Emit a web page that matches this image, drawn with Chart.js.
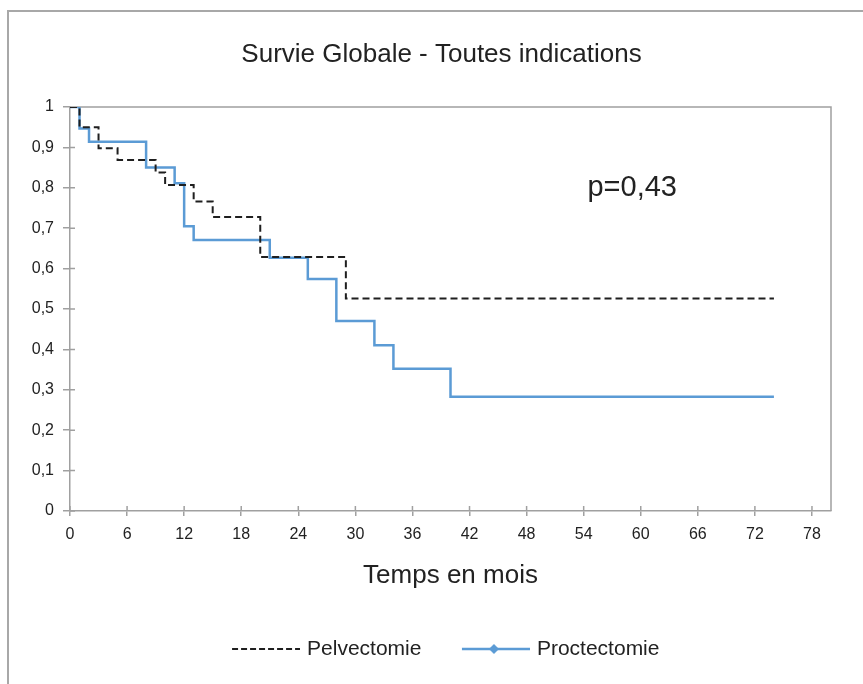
<!DOCTYPE html>
<html>
<head>
<meta charset="utf-8">
<script src="https://cdn.jsdelivr.net/npm/chart.js@4.4.0/dist/chart.umd.min.js"></script>
<style>
html,body{margin:0;padding:0;background:#fff;}
#wrap{width:863px;height:684px;position:relative;}
canvas{display:block;}
</style>
</head>
<body>
<div id="wrap"><canvas id="c" width="863" height="684"></canvas></div>
<script>
// ---- data ----
const chartTitle = 'Survie Globale - Toutes indications';
const xAxisTitle = 'Temps en mois';
const pValueText = 'p=0,43';
const seriesNames = ['Pelvectomie', 'Proctectomie'];
const pelvMonths   = [0, 1, 3, 5, 9, 10, 13, 15, 20, 29, 74];
const pelvSurvival = [1, 0.95, 0.898, 0.869, 0.838, 0.807, 0.766, 0.728, 0.629, 0.526, 0.526];
const proctMonths   = [0, 1, 2, 8, 11, 12, 13, 21, 25, 28, 32, 34, 40, 74];
const proctSurvival = [1, 0.947, 0.914, 0.85, 0.811, 0.705, 0.671, 0.627, 0.574, 0.47, 0.41, 0.352, 0.283, 0.283];
const xTickValues = [0, 6, 12, 18, 24, 30, 36, 42, 48, 54, 60, 66, 72, 78];
const yTickValues = [0, 0.1, 0.2, 0.3, 0.4, 0.5, 0.6, 0.7, 0.8, 0.9, 1];
const yTickLabels = ['0', '0,1', '0,2', '0,3', '0,4', '0,5', '0,6', '0,7', '0,8', '0,9', '1'];

// ---- styling ----
const FONT = '"Liberation Sans", Arial, Helvetica, sans-serif';
const TEXT = '#222222';
const AXIS = '#a0a0a0';
const BLUE = '#5b9bd5';
const BLACK = '#1f1f1f';
Chart.defaults.font.family = FONT;
Chart.defaults.color = TEXT;

function legendImage(kind) {
  const cv = document.createElement('canvas');
  cv.width = 100; cv.height = 14;
  const g = cv.getContext('2d');
  if (kind === 'dash') {
    g.strokeStyle = BLACK; g.lineWidth = 2; g.setLineDash([6, 3]);
    g.beginPath(); g.moveTo(32, 7); g.lineTo(100, 7); g.stroke();
  } else {
    g.strokeStyle = BLUE; g.lineWidth = 2.5;
    g.beginPath(); g.moveTo(32, 7); g.lineTo(100, 7); g.stroke();
    g.fillStyle = BLUE;
    g.beginPath(); g.moveTo(64, 2); g.lineTo(69, 7); g.lineTo(64, 12); g.lineTo(59, 7); g.closePath(); g.fill();
  }
  return cv;
}
const legendImgs = [legendImage('dash'), legendImage('diamond')];

const decor = {
  id: 'decor',
  afterLayout(chart) {
    // shift title centre slightly right, as in the reference
    if (chart.titleBlock) { chart.titleBlock.left = 20; }
  },
  beforeDraw(chart) {
    const c = chart.ctx;
    c.save();
    c.fillStyle = '#ffffff';
    c.fillRect(0, 0, chart.width, chart.height);
    c.strokeStyle = '#a8a8a8'; c.lineWidth = 2;
    c.beginPath(); c.moveTo(8, chart.height + 4); c.lineTo(8, 11); c.lineTo(chart.width + 4, 11); c.stroke();
    c.restore();
  },
  beforeDatasetsDraw(chart) {
    const c = chart.ctx, a = chart.chartArea;
    const xs = chart.scales.x, ys = chart.scales.y;
    c.save();
    c.strokeStyle = AXIS; c.lineWidth = 1.5;
    c.beginPath();
    c.moveTo(a.left, a.top); c.lineTo(a.right, a.top); c.lineTo(a.right, a.bottom);
    xTickValues.forEach(v => { const px = xs.getPixelForValue(v); c.moveTo(px, a.bottom); c.lineTo(px, a.bottom - 5); });
    yTickValues.forEach(v => { const py = ys.getPixelForValue(v); c.moveTo(a.left, py); c.lineTo(a.left + 5, py); });
    c.stroke();
    c.restore();
  },
  afterDatasetsDraw(chart) {
    const c = chart.ctx;
    const xs = chart.scales.x, ys = chart.scales.y;
    c.save();
    c.font = '29px ' + FONT;
    c.fillStyle = TEXT;
    c.textAlign = 'left'; c.textBaseline = 'middle';
    c.fillText(pValueText, xs.getPixelForValue(54.4), ys.getPixelForValue(0.80));
    c.restore();
  }
};

new Chart(document.getElementById('c'), {
  type: 'line',
  data: {
    datasets: [
      {
        label: seriesNames[0],
        data: pelvMonths.map((m, i) => ({ x: m, y: pelvSurvival[i] })),
        borderColor: BLACK, borderWidth: 2, borderDash: [7, 4],
        stepped: 'before', pointRadius: 0, fill: false
      },
      {
        label: seriesNames[1],
        data: proctMonths.map((m, i) => ({ x: m, y: proctSurvival[i] })),
        borderColor: BLUE, borderWidth: 2.5,
        stepped: 'before', pointRadius: 0, fill: false
      }
    ]
  },
  options: {
    responsive: false,
    animation: false,
    devicePixelRatio: 1,
    layout: { padding: { left: 0, right: 0, top: 0, bottom: 14.5 } },
    plugins: {
      title: {
        display: true, text: chartTitle, color: TEXT,
        font: { size: 26, weight: 'normal', family: FONT },
        padding: { top: 39.4, bottom: 36.4 }
      },
      legend: {
        position: 'bottom',
        labels: {
          usePointStyle: true, pointStyleWidth: 93, padding: 12,
          font: { size: 21, family: FONT }, color: TEXT,
          generateLabels: (chart) => chart.data.datasets.map((ds, i) => ({
            text: ds.label, pointStyle: legendImgs[i], datasetIndex: i, hidden: false,
            lineWidth: 0, fillStyle: 'rgba(0,0,0,0)', strokeStyle: 'rgba(0,0,0,0)', fontColor: TEXT
          }))
        }
      },
      tooltip: { enabled: false }
    },
    scales: {
      x: {
        type: 'linear', min: 0, max: 80,
        afterBuildTicks: s => { s.ticks = xTickValues.map(v => ({ value: v })); },
        afterFit: s => { s.height = 115.5; },
        ticks: { callback: v => String(v), font: { size: 16 }, color: TEXT, padding: 9.4, maxRotation: 0, autoSkip: false },
        grid: { display: true, drawOnChartArea: false, drawTicks: true, tickLength: 5, color: AXIS, lineWidth: 1.5 },
        border: { display: true, color: AXIS, width: 1.5 },
        title: { display: true, text: xAxisTitle, color: TEXT, font: { size: 26 }, padding: { top: 0, bottom: 34.9 } }
      },
      y: {
        type: 'linear', min: 0, max: 1,
        afterBuildTicks: s => { s.ticks = yTickValues.map(v => ({ value: v })); },
        afterFit: s => { s.width = 70; },
        ticks: { callback: v => yTickLabels[yTickValues.indexOf(v)], font: { size: 16 }, color: TEXT, padding: 9, autoSkip: false },
        grid: { display: true, drawOnChartArea: false, drawTicks: true, tickLength: 7, color: AXIS, lineWidth: 1.5 },
        border: { display: true, color: AXIS, width: 1.5 }
      },
      y2: {
        type: 'linear', position: 'right', min: 0, max: 1, display: true,
        afterFit: s => { s.width = 32; },
        ticks: { display: false }, grid: { display: false }, border: { display: false }
      }
    }
  },
  plugins: [decor]
});
</script>
</body>
</html>
